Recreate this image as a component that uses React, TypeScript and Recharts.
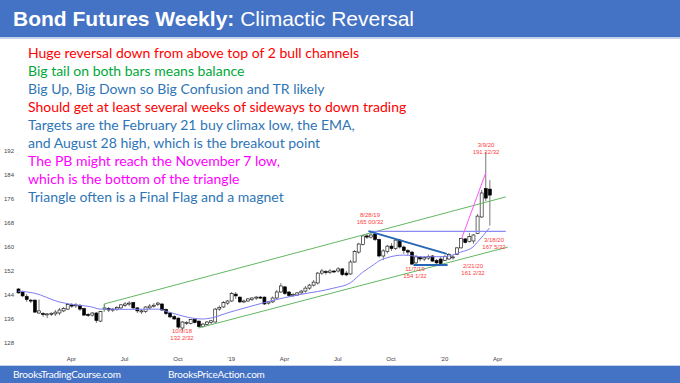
import React from "react";
import { ComposedChart, Bar, Line, XAxis, YAxis, ReferenceLine } from "recharts";

// weekly bars, first bar = week of Jan 1 2018
const opens = [
  146, 145, 143.5, 142.3, 142.3, 138, 137.8, 137.5, 137.7, 137.7, 138, 138.7, 139.3, 140.7, 140.5, 140.5, 139.5, 137.5, 137.3, 138,
  135.3, 139.3, 139.5, 139, 139.3, 139.7, 140.5, 141, 141.5, 139.7, 138.5, 138.5, 139.7, 140.3, 140.8, 141, 139.2, 138, 136.8, 136.3,
  133, 134.8, 134.5, 135.8, 135.3, 133.5, 134.2, 134.8, 135, 139.3, 140, 141.3, 142, 144.3, 143.3, 141.7, 142, 142.5, 143, 143.3,
  143.3, 141.3, 141.7, 143, 145, 146.7, 145, 143.8, 144, 144.7, 145.3, 146.3, 147.3, 148, 151.3, 151.8, 151.5, 152, 152, 152.7,
  151.3, 151, 155, 158.3, 160.8, 163.7, 163.3, 164.3, 162.5, 157, 158.5, 160.3, 159.5, 162.3, 160, 158.8, 158.3, 154.7, 156.5, 156,
  156.3, 157, 155.5, 156, 155.5, 156, 156.5, 157.5, 159.7, 162.7, 161.8, 162, 164.5, 170, 179.5, 179.3,
];
const highs = [
  146.3, 145.5, 144.3, 142.7, 142.5, 142.5, 138.3, 138, 138.3, 139, 139.7, 140, 141.3, 141.3, 141.3, 141, 139.7, 138, 138.3, 138.3,
  138.7, 141, 140, 139.7, 140.3, 141, 141.7, 142, 141.7, 140, 139.3, 140.3, 141, 141.3, 141.7, 141.3, 139.5, 138.3, 137.3, 136.5,
  135.3, 135.3, 136, 136.3, 135.5, 134.7, 135.3, 135.7, 139.7, 140.5, 142, 142.3, 145, 145, 143.5, 142.5, 143, 143.3, 143.7, 143.7,
  143.5, 142, 143.5, 145.7, 148, 147, 145.3, 144.7, 145, 145.7, 147, 147.7, 149, 151.7, 152.7, 152.3, 152.7, 152.3, 153.3, 153,
  152, 155.7, 159, 161.3, 164, 164.5, 165, 164.7, 162.8, 159.3, 160.7, 161.3, 163, 162.7, 160.5, 159.3, 158.7, 157.3, 157, 157,
  157.5, 157.3, 156, 156.7, 157.3, 158, 157.3, 160, 163, 163, 164.7, 164.3, 171, 179, 191.69, 182.3,
];
const lows = [
  144.5, 143.3, 141.7, 141.3, 138, 137.7, 136.7, 136.3, 137, 137, 137.3, 138.3, 139, 139.7, 139.7, 138.7, 137, 136.7, 136.8, 134.7,
  135, 138.7, 138.3, 138.3, 138.7, 139.3, 140, 140.3, 139.3, 138, 137.7, 138, 139.3, 139.8, 140.3, 138.7, 137.3, 136.3, 135.7, 132.7,
  132.06, 134, 134.2, 134.5, 133.2, 133.2, 133.8, 134.3, 134.8, 138.7, 139.7, 140.7, 141.7, 142.7, 141.3, 141.3, 141.7, 142, 142.3, 142.7,
  140.7, 140.8, 141.3, 142.7, 144.7, 144, 143.3, 143.3, 143.7, 144.3, 144.8, 145.7, 146.8, 147.5, 150.7, 150.8, 151, 151.3, 151.5, 150.3,
  150.3, 150.7, 154.7, 157.7, 160.5, 162.7, 162.8, 162, 156.5, 155.7, 157.8, 158.7, 159, 159.5, 157.7, 157.3, 154.03, 154.3, 155.3, 155.3,
  155.7, 155, 154.3, 154, 155.3, 155.7, 155.8, 157.3, 159.5, 161.2, 161.5, 161.06, 164.3, 169.7, 175.3, 167.16,
];
const closes = [
  144.7, 143.7, 142.5, 142, 138.3, 138.7, 137.5, 137.7, 137.9, 138.3, 139, 139.5, 140.8, 140.3, 140.7, 139.3, 137.3, 137.3, 138, 135.5,
  138.5, 139.7, 139, 139.3, 139.8, 140.7, 141, 141.3, 139.7, 138.7, 138.7, 140, 140.3, 140.6, 141.3, 139, 137.8, 136.7, 136, 133.3,
  135, 134.9, 135.8, 134.8, 133.5, 134.3, 135, 135.4, 139.3, 139.9, 141.5, 142, 144.5, 143.7, 141.7, 142, 142.7, 143, 143.3, 143.1,
  141, 141.7, 143, 145, 147, 144.5, 143.8, 144.2, 144.7, 145.3, 146.3, 147.3, 148.3, 151.3, 152, 151.5, 152, 151.9, 152.7, 150.8,
  150.7, 155, 158.5, 161, 163.7, 163.3, 164, 162.5, 157, 158.7, 160.3, 159.5, 162.3, 160, 158.8, 158.3, 154.3, 156.7, 156, 156.5,
  156.8, 155.3, 154.7, 154.5, 156.8, 157.5, 156.7, 159.7, 162.8, 161.5, 163.5, 164, 170.3, 178, 176.3, 177.3,
];

// 20-period EMA at a few weeks
const emaWeeks = [0, 4, 10, 13, 18, 20, 27, 34, 37, 43, 45, 47, 51, 53, 58, 65, 69, 77, 81, 84, 87, 88, 90, 94, 99, 104, 108, 111, 112, 115];
const emaValues = [145.3, 144.6, 141.7, 140.9, 140, 139.3, 139.2, 139.3, 138.2, 136.2, 136, 136.3, 138, 138.8, 140.7, 143.1, 144.2, 146.3, 148, 151.5, 154.3, 155.3, 156.4, 157.3, 156.7, 156.8, 158.3, 160, 161.5, 166.3];

const xTickWeeks = [13, 26, 39, 52, 65, 78, 91, 104, 117];
const xTickLabels = ["Apr", "Jul", "Oct", "'19", "Apr", "Jul", "Oct", "'20", "Apr"];
const yTicks = [128, 136, 144, 152, 160, 168, 176, 184, 192];

// trend lines: [week, price] endpoints
const upperChannel = [[21, 141], [119, 176.7]];
const upperChannelFoot = [[21, 138.3], [21, 141]];
const lowerChannel = [[44, 133], [119.5, 160]];
const breakoutLine = [[85.5, 165.2], [119, 165.2]];
const triangleTop = [[85.5, 165.3], [104.6, 157.7]];
const triangleBottom = [[96.5, 154], [104.8, 154]];
const climaxLine = [[108.2, 162.7], [114.1, 184.7]];

const notes = [
  { text: "Huge reversal down from above top of 2 bull channels", color: "#FF0000" },
  { text: "Big tail on both bars means balance", color: "#00A839" },
  { text: "Big Up, Big Down so Big Confusion and TR likely", color: "#2E75B6" },
  { text: "Should get at least several weeks of sideways to down trading", color: "#FF0000" },
  { text: "Targets are the February 21 buy climax low, the EMA,", color: "#2E75B6" },
  { text: "and August 28 high, which is the breakout point", color: "#2E75B6" },
  { text: "The PB might reach the November 7 low,", color: "#FF00FF" },
  { text: "which is the bottom of the triangle", color: "#FF00FF" },
  { text: "Triangle often is a Final Flag and a magnet", color: "#2E75B6" },
];

const labels = [
  { lines: ["8/28/19", "165 00/32"], x: 370, y: 215.5 },
  { lines: ["3/9/20", "191 22/32"], x: 486, y: 145 },
  { lines: ["3/18/20", "167 5/32"], x: 494, y: 240 },
  { lines: ["2/21/20", "161 2/32"], x: 473, y: 266 },
  { lines: ["11/7/19", "154 1/32"], x: 415, y: 269.5 },
  { lines: ["10/9/18", "132 2/32"], x: 182, y: 331 },
];

const bars = opens.map((o, i) => ({
  w: i,
  open: o,
  high: highs[i],
  low: lows[i],
  close: closes[i],
  range: [lows[i], highs[i]],
}));
const emaData = emaWeeks.map((w, i) => ({ w, ema: emaValues[i] }));

const seg = (pts: number[][]) => pts.map(([x, y]) => ({ x, y }));

const Candle = (props: any) => {
  const { x, y, width, height } = props;
  const p = props.payload || props;
  if (height == null || isNaN(height)) return null;
  const ppu = height / (p.high - p.low);
  const cx = x + width / 2;
  const top = y + (p.high - Math.max(p.open, p.close)) * ppu;
  const bh = Math.max(Math.abs(p.open - p.close) * ppu, 1);
  const up = p.close >= p.open;
  return (
    <g>
      <line x1={cx} x2={cx} y1={y} y2={y + height} stroke="#555" strokeWidth={0.8} />
      <rect x={x} y={top} width={width} height={bh} fill={up ? "#fff" : "#000"} stroke="#000" strokeWidth={0.6} />
    </g>
  );
};

const narrow = "'Liberation Sans Narrow', 'Arial Narrow', 'Liberation Sans', Arial, sans-serif";
const textFont = "Lato, 'Open Sans', sans-serif";

export default function App() {
  return (
    <div style={{ position: "absolute", left: 0, top: 0, width: 680, height: 383, background: "#fff", overflow: "hidden" }}>
      <div style={{ position: "absolute", left: 0, top: 0, width: 680, height: 37, background: "#4472C4", borderBottom: "2px solid #C3D3EC" }} />
      <div style={{ position: "absolute", left: 13, top: 7, fontFamily: narrow, fontSize: 21, lineHeight: "24px", color: "#fff", whiteSpace: "nowrap" }}>
        <b>Bond Futures Weekly:</b> Climactic Reversal
      </div>

      <div style={{ position: "absolute", left: 0, top: 0 }}>
        <ComposedChart width={680} height={366} data={bars} margin={{ top: 127, right: 166, bottom: 0, left: 0 }}>
          <XAxis
            dataKey="w"
            type="number"
            domain={[-0.5, 121]}
            ticks={xTickWeeks}
            interval={0}
            tickFormatter={(v: number) => xTickLabels[xTickWeeks.indexOf(v)]}
            tickLine={false}
            tickSize={0}
            tickMargin={2}
            axisLine={false}
            height={11}
            tick={{ fontSize: 6, fill: "#444", fontFamily: narrow }}
          />
          <YAxis
            domain={[124, 200]}
            ticks={yTicks}
            interval={0}
            width={16}
            tickLine={false}
            tickSize={0}
            tickMargin={2}
            axisLine={false}
            tick={{ fontSize: 6, fill: "#444", fontFamily: narrow }}
          />
          <ReferenceLine segment={seg(upperChannel)} stroke="#62B862" strokeWidth={1} />
          <ReferenceLine segment={seg(upperChannelFoot)} stroke="#62B862" strokeWidth={1} />
          <ReferenceLine segment={seg(lowerChannel)} stroke="#62B862" strokeWidth={1} />
          <ReferenceLine segment={seg(breakoutLine)} stroke="#8A8AF5" strokeWidth={1.2} />
          <Bar dataKey="range" barSize={3} shape={<Candle />} isAnimationActive={false} />
          <Line data={emaData} dataKey="ema" type="monotone" stroke="#7C7CF4" strokeWidth={1} dot={false} isAnimationActive={false} />
          <ReferenceLine segment={seg(triangleTop)} stroke="#2567B5" strokeWidth={2} />
          <ReferenceLine segment={seg(triangleBottom)} stroke="#2567B5" strokeWidth={2} />
          <ReferenceLine segment={seg(climaxLine)} stroke="#FF55FF" strokeWidth={1} />
        </ComposedChart>
      </div>

      {labels.map((l, i) =>
        l.lines.map((t, j) => (
          <div
            key={i + "-" + j}
            style={{
              position: "absolute",
              left: l.x,
              top: l.y + j * 7 - 3.5,
              transform: "translateX(-50%)",
              fontFamily: narrow,
              fontSize: 6,
              lineHeight: "7px",
              color: "#FF3B3B",
              whiteSpace: "nowrap",
            }}
          >
            {t}
          </div>
        ))
      )}

      {notes.map((n, i) => (
        <div
          key={i}
          style={{
            position: "absolute",
            left: 28,
            top: 44 + i * 18,
            fontFamily: textFont,
            fontSize: 14,
            lineHeight: "18px",
            color: n.color,
            whiteSpace: "nowrap",
          }}
        >
          {n.text}
        </div>
      ))}

      <div style={{ position: "absolute", left: 0, top: 365, width: 680, height: 1, background: "#C3D3EC" }} />
      <div style={{ position: "absolute", left: 0, top: 366, width: 680, height: 17, background: "#4472C4" }} />
      <div style={{ position: "absolute", left: 13, top: 366, fontFamily: textFont, fontSize: 10, letterSpacing: -0.25, lineHeight: "17px", color: "#fff" }}>
        BrooksTradingCourse.com
      </div>
      <div style={{ position: "absolute", left: 168, top: 366, fontFamily: textFont, fontSize: 10, letterSpacing: -0.25, lineHeight: "17px", color: "#fff" }}>
        BrooksPriceAction.com
      </div>
    </div>
  );
}
